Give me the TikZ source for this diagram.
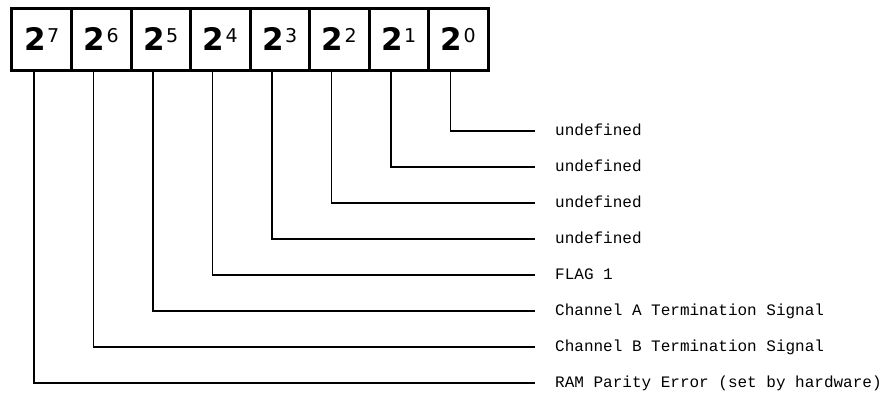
\documentclass[tikz,border=0pt]{standalone}
\usepackage{fontspec}
\usepackage{tikz}
\setmonofont{Liberation Mono}
\newfontfamily\bitfont{DejaVu Sans}
\newcommand\bitpow[1]{%
  {\bitfont\fontsize{31bp}{31bp}\selectfont\bfseries 2}\kern1.5bp%
  \raisebox{8bp}{\bitfont\fontsize{19bp}{19bp}\selectfont #1}%
}

\begin{document}
\begin{tikzpicture}[x=1bp, y=-1bp,
  bitbox/.style={draw, line width=3bp, minimum width=59.5bp, minimum height=62bp, inner sep=0pt},
  flag/.style={anchor=base west, inner sep=0pt, font=\ttfamily\fontsize{16bp}{16bp}\selectfont},
  lead/.style={line width=1.1bp, shorten >=20bp}]
  \useasboundingbox (0,0) rectangle (890,394);
  \node[bitbox] (b7) at (41.75,39) {\bitpow{7}};
  \node[bitbox] (b6) at (101.25,39) {\bitpow{6}};
  \node[bitbox] (b5) at (160.75,39) {\bitpow{5}};
  \node[bitbox] (b4) at (220.25,39) {\bitpow{4}};
  \node[bitbox] (b3) at (279.75,39) {\bitpow{3}};
  \node[bitbox] (b2) at (339.25,39) {\bitpow{2}};
  \node[bitbox] (b1) at (398.75,39) {\bitpow{1}};
  \node[bitbox] (b0) at (458.25,39) {\bitpow{0}};
  \node[flag] (l0) at (555,135) {undefined};
  \node[flag] (l1) at (555,171) {undefined};
  \node[flag] (l2) at (555,207) {undefined};
  \node[flag] (l3) at (555,243) {undefined};
  \node[flag] (l4) at (555,279) {FLAG 1};
  \node[flag] (l5) at (555,315) {Channel A Termination Signal};
  \node[flag] (l6) at (555,351) {Channel B Termination Signal};
  \node[flag] (l7) at (555,387) {RAM Parity Error (set by hardware)};
  \draw[lead] ([xshift=23.5bp]b0.south west) |- ([yshift=4bp]l0.base west);
  \draw[lead] ([xshift=23.5bp]b1.south west) |- ([yshift=4bp]l1.base west);
  \draw[lead] ([xshift=23.5bp]b2.south west) |- ([yshift=4bp]l2.base west);
  \draw[lead] ([xshift=23.5bp]b3.south west) |- ([yshift=4bp]l3.base west);
  \draw[lead] ([xshift=23.5bp]b4.south west) |- ([yshift=4bp]l4.base west);
  \draw[lead] ([xshift=23.5bp]b5.south west) |- ([yshift=4bp]l5.base west);
  \draw[lead] ([xshift=23.5bp]b6.south west) |- ([yshift=4bp]l6.base west);
  \draw[lead] ([xshift=23.5bp]b7.south west) |- ([yshift=4bp]l7.base west);
\end{tikzpicture}
\end{document}
